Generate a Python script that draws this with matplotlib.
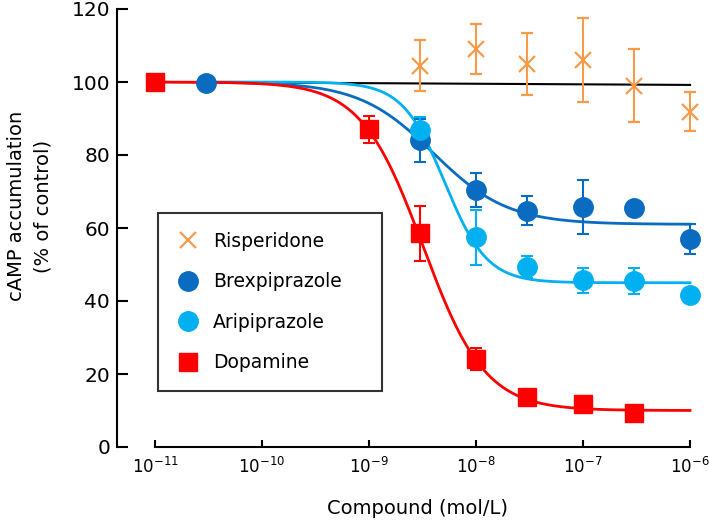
import numpy as np
import matplotlib
matplotlib.use("Agg")
import matplotlib.pyplot as plt

plt.rcParams['font.family'] = ['DejaVu Sans']
plt.rcParams['mathtext.default'] = 'regular'

# Dopamine
dopa_x = [1e-11, 1e-9, 3e-9, 1e-8, 3e-8, 1e-7, 3e-7]
dopa_y = [100, 87, 58.5, 24, 13.7, 11.8, 9.2]
dopa_err = [0, 3.7, 7.5, 3, 1, 1, 1]

# Brexpiprazole
brex_x = [3e-11, 3e-9, 1e-8, 3e-8, 1e-7, 3e-7, 1e-6]
brex_y = [99.7, 84, 70.4, 64.7, 65.8, 65.6, 57]
brex_err = [0, 6, 4.6, 4, 7.4, 1, 4]

# Aripiprazole
ari_x = [3e-9, 1e-8, 3e-8, 1e-7, 3e-7, 1e-6]
ari_y = [86.8, 57.5, 49.3, 45.7, 45.5, 41.6]
ari_err = [3.6, 7.5, 3, 3.4, 3.6, 1]

# Risperidone
risp_x = [3e-9, 1e-8, 3e-8, 1e-7, 3e-7, 1e-6]
risp_y = [104.5, 109, 105, 106, 99, 91.9]
risp_err = [7, 6.9, 8.5, 11.4, 10, 5.3]

# fitted curves: top, bottom, IC50, hill
dopa_fit = [100, 10, 3.2e-9, 1.5]
brex_fit = [100, 61, 4.0e-9, 1.25]
ari_fit = [100, 45, 5.1e-9, 2.2]
risp_line_x = [1e-11, 1e-6]
risp_line_y = [100, 99.2]

x_ticks = [1e-11, 1e-10, 1e-9, 1e-8, 1e-7, 1e-6]
x_ticklabels = ['$10^{-11}$', '$10^{-10}$', '$10^{-9}$', '$10^{-8}$', '$10^{-7}$', '$10^{-6}$']
y_ticks = [0, 20, 40, 60, 80, 100, 120]

RED = '#ff0000'
DBLUE = '#0a6cc0'
LBLUE = '#00b0f0'
ORANGE = '#f79a4a'


def logistic(x, p):
    top, bottom, ic50, hill = p
    return bottom + (top - bottom) / (1 + (x / ic50) ** hill)


fig = plt.figure(figsize=(7.09, 5.22), dpi=100)
ax = fig.add_axes([117 / 709, 1 - 447 / 522, 583 / 709, 438 / 522])

ax.plot(risp_line_x, risp_line_y, color='black', lw=1.5, zorder=1)

xs = np.logspace(np.log10(3e-11), -6, 300)
ax.plot(xs, logistic(xs, brex_fit), color=DBLUE, lw=2, zorder=2)
ax.plot(xs, logistic(xs, ari_fit), color=LBLUE, lw=2, zorder=2)
xd = np.logspace(-11, -6, 300)
ax.plot(xd, logistic(xd, dopa_fit), color=RED, lw=2, zorder=3)

ekw = dict(capsize=4.5, elinewidth=1.5, capthick=1.5, linestyle='none', clip_on=False)
ax.errorbar(risp_x, risp_y, yerr=risp_err, color=ORANGE, marker='x', ms=11,
            mew=1.6, label='Risperidone', zorder=4, **ekw)
ax.errorbar(brex_x, brex_y, yerr=brex_err, color=DBLUE, marker='o', ms=14,
            label='Brexpiprazole', zorder=5, **ekw)
ax.errorbar(ari_x, ari_y, yerr=ari_err, color=LBLUE, marker='o', ms=14,
            label='Aripiprazole', zorder=5, **ekw)
ax.errorbar(dopa_x, dopa_y, yerr=dopa_err, color=RED, marker='s', ms=12.5,
            label='Dopamine', zorder=6, **ekw)

ax.set_xscale('log')
ax.set_xlim(10 ** -11.355, 10 ** -5.907)
ax.set_ylim(0, 120)

ax.spines['top'].set_visible(False)
ax.spines['right'].set_visible(False)
ax.spines['left'].set_linewidth(1.5)
ax.spines['bottom'].set_linewidth(1.5)
ax.spines['bottom'].set_bounds(1e-11, 1e-6)

ax.set_xticks(x_ticks)
ax.set_xticklabels(x_ticklabels)
ax.xaxis.set_minor_locator(matplotlib.ticker.NullLocator())
ax.set_yticks(y_ticks)
ax.tick_params(axis='y', direction='in', length=8, width=1.5, labelsize=14.5, pad=5)
ax.tick_params(axis='x', direction='in', length=5, width=1.5, labelsize=12, pad=7)

ax.set_xlabel('Compound (mol/L)', fontsize=14)
ax.xaxis.set_label_coords(0.515, -0.118)
ax.set_ylabel('cAMP accumulation\n(% of control)', fontsize=14, linespacing=1.55)
ax.yaxis.set_label_coords(-0.11, 0.55)

handles, labels = ax.get_legend_handles_labels()
handles = [h[0] for h in handles]
leg = ax.legend(handles, labels, loc='lower left',
                bbox_to_anchor=(41 / 583, 56 / 438, 224 / 583, 0.2), mode='expand',
                fontsize=13.5, frameon=True, fancybox=False, edgecolor='black',
                borderpad=1.0, labelspacing=1.15, handlelength=1.2, handletextpad=0.73,
                borderaxespad=0)
leg.get_frame().set_linewidth(1.5)

fig.savefig('out.png', dpi=100)
